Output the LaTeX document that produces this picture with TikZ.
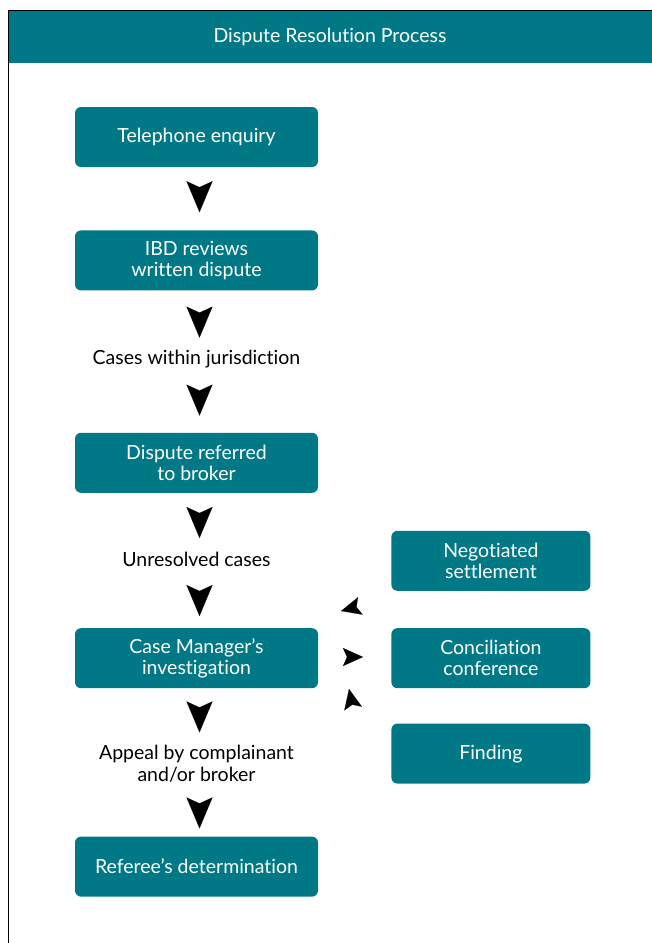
\documentclass[tikz,border=0pt]{standalone}
\usepackage{fontspec}
\setmainfont{Lato}[Ligatures={NoCommon,NoRare}]
\usepackage{tikz}
\usetikzlibrary{positioning}
\usetikzlibrary{calc}
\usetikzlibrary{arrows.meta}
\definecolor{ibdteal}{RGB}{0,120,134}

\begin{document}
\begin{tikzpicture}[x=1pt, y=1pt,
    box/.style={fill=ibdteal, text=white, rounded corners=6pt, minimum width=243pt, minimum height=60pt, align=center, font=\fontsize{19.5}{21.3}\selectfont},
    sidebox/.style={box, minimum width=199pt},
    lbl/.style={align=center, font=\fontsize{19.5}{22}\selectfont},
    bigtip/.style={-{Stealth[length=31pt, width=26pt, inset=6pt, color=black]}, draw=white, line width=0.1pt},
    smalltip/.style={-{Stealth[length=20pt, width=18pt, inset=4pt, color=black]}, draw=white, line width=0.1pt}]
            \useasboundingbox (0,0) rectangle (652,-943);

            % frame and header
            \node[fill=ibdteal, text=white, minimum width=644pt, minimum height=53pt, inner sep=0pt, font=\fontsize{19.5}{22}\selectfont] (title) at (330,-36.5) {Dispute Resolution Process};
            \draw (8,-943) -- (8,-10) -- (652,-10);

            % main column
            \node[box] (tel) at (196.5,-137) {Telephone enquiry};
            \node[box, below = 63pt of tel] (ibd) {IBD reviews\\written dispute};
            \node[box, below = 142pt of ibd] (ref) {Dispute referred\\to broker};
            \node[box, below = 135pt of ref] (cm) {Case Manager’s\\investigation};
            \node[box, below = 148pt of cm] (det) {Referee’s determination};

            \node[lbl] (within) at ($(ibd.south)+(0,-68)$) {Cases within jurisdiction};
            \node[lbl] (unres) at ($(ref.south)+(0,-66)$) {Unresolved cases};
            \node[lbl] (appeal) at ($(cm.south)+(0,-75)$) {Appeal by complainant\\and/or broker};

            % outcomes
            \node[sidebox, right = 73pt of cm] (conc) {Conciliation\\conference};
            \node[sidebox, above = 37pt of conc] (neg) {Negotiated\\settlement};
            \node[sidebox, below = 35pt of conc] (find) {Finding};

            % down arrows
            \coordinate (a1) at ($(tel.south)+(3,-14)$);
            \coordinate (b1) at ($(a1)+(0,-31)$);
            \coordinate (a2) at ($(ibd.south)+(3,-16)$);
            \coordinate (b2) at ($(a2)+(0,-31)$);
            \coordinate (a3) at ($(ibd.south)+(3,-94)$);
            \coordinate (b3) at ($(a3)+(0,-31)$);
            \coordinate (a4) at ($(ref.south)+(3,-14)$);
            \coordinate (b4) at ($(a4)+(0,-31)$);
            \coordinate (a5) at ($(cm.north)+(3,43)$);
            \coordinate (b5) at ($(a5)+(0,-31)$);
            \coordinate (a6) at ($(cm.south)+(3,-13)$);
            \coordinate (b6) at ($(a6)+(0,-31)$);
            \coordinate (a7) at ($(det.north)+(3,39)$);
            \coordinate (b7) at ($(a7)+(0,-31)$);
            \foreach \i in {1,...,7}
                \draw[bigtip] (a\i) -- (b\i);

            % side arrows
            \coordinate (s1) at (360,-606);
            \coordinate (t1) at (341,-611);
            \coordinate (s2) at (343,-657);
            \coordinate (t2) at (363,-657);
            \coordinate (s3) at (353,-708);
            \coordinate (t3) at (349,-689);
            \foreach \i in {1,2,3}
                \draw[smalltip] (s\i) -- (t\i);
        \end{tikzpicture}
\end{document}
